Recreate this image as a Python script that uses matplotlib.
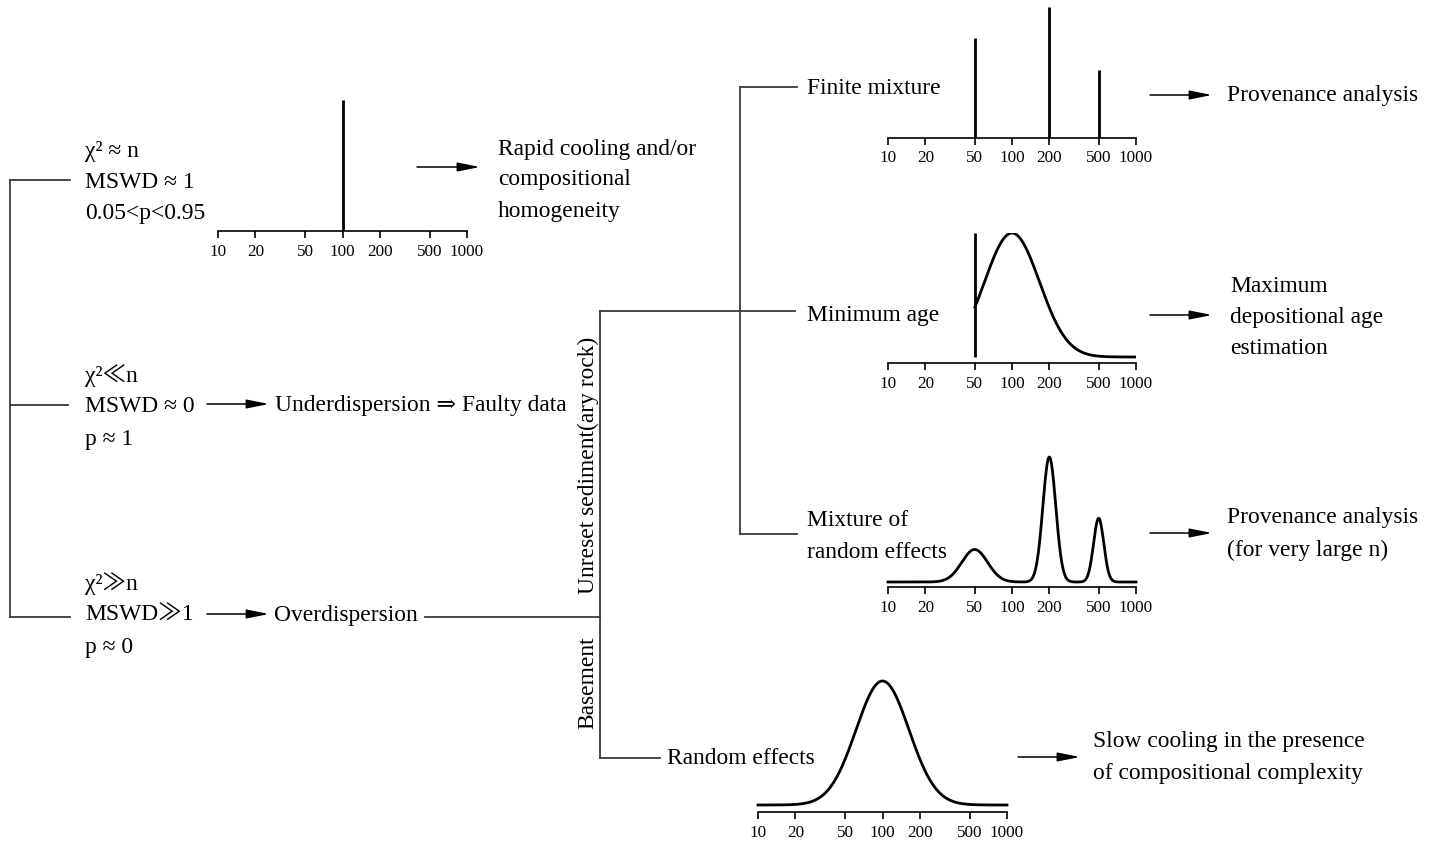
import numpy as np
import matplotlib
matplotlib.use('Agg')
import matplotlib.pyplot as plt

matplotlib.rcParams['font.family'] = ['Liberation Serif', 'DejaVu Serif', 'Noto Sans CJK JP', 'DejaVu Sans']
matplotlib.rcParams['font.size'] = 16.9

W, H = 1431, 846

# log age axis shared by all little plots
tick_values = [10, 20, 50, 100, 200, 500, 1000]
tick_labels = ['10', '20', '50', '100', '200', '500', '1000']

# single discrete age (rapid cooling)
single_ages = [100]
single_heights = [1.0]

# finite mixture: discrete components
finite_ages = [50, 200, 500]
finite_heights = [0.76, 1.0, 0.52]

# minimum age model
min_age = 50
min_age_mode = 100
min_age_sigma = 0.51

# mixture of random effects
mix_ages = [50, 200, 500]
mix_sigmas = [0.24, 0.12, 0.095]
mix_heights = [0.26, 1.0, 0.51]

# random effects (single lognormal)
rand_age = 100
rand_sigma = 0.49

fig = plt.figure(figsize=(W / 100, H / 100), dpi=100)
ax = fig.add_axes([0, 0, 1, 1])
ax.set_xlim(0, W)
ax.set_ylim(H, 0)
ax.axis('off')

tree = dict(color='#3a3a3a', lw=1.3)


def seg(x0, y0, x1, y1):
    ax.plot([x0, x1], [y0, y1], **tree)


def arrow(x0, x1, y):
    ax.annotate('', xy=(x1, y), xytext=(x0, y),
                arrowprops=dict(arrowstyle='-|>,head_length=0.8,head_width=0.16',
                                color='black', lw=1.1, shrinkA=0, shrinkB=0))


def lines(x, ys, strs, **kw):
    for y, s in zip(ys, strs):
        ax.text(x, y + 2, s, va='center', ha='left', **kw)


# left bracket
seg(10, 180, 10, 617)
seg(10, 180, 70, 180)
seg(10, 405, 68, 405)
seg(10, 617, 70, 617)

lines(85, [150, 181, 212], ['χ² ≈ n', 'MSWD ≈ 1', '0.05<p<0.95'])
lines(85, [374, 405, 437], ['χ²≪n', 'MSWD ≈ 0', 'p ≈ 1'])
lines(85, [582, 613, 645], ['χ²≫n', 'MSWD≫1', 'p ≈ 0'])

arrow(417, 480, 167)
lines(498, [147, 178, 210], ['Rapid cooling and/or', 'compositional', 'homogeneity'])

arrow(207, 269, 404)
lines(275, [403], ['Underdispersion ⇒ Faulty data'])

arrow(207, 269, 614)
lines(274, [613], ['Overdispersion'])
seg(425, 617, 600, 617)

# second bracket
seg(600, 311, 600, 758)
seg(600, 311, 795, 311)
seg(600, 758, 660, 758)
ax.text(588, 465, 'Unreset sediment(ary rock)', rotation=90, ha='center', va='center')
ax.text(588, 683, 'Basement', rotation=90, ha='center', va='center')

# third bracket
seg(740, 87, 740, 534)
seg(740, 87, 797, 87)
seg(740, 534, 797, 534)

lines(807, [87], ['Finite mixture'])
lines(807, [313], ['Minimum age'])
lines(807, [519, 550], ['Mixture of', 'random effects'])
lines(667, [756], ['Random effects'])

arrow(1150, 1212, 95)
lines(1227, [94], ['Provenance analysis'])
arrow(1150, 1212, 315)
lines(1230, [284, 316, 347], ['Maximum', 'depositional age', 'estimation'])
arrow(1150, 1212, 533)
lines(1227, [516, 548], ['Provenance analysis', '(for very large n)'])
arrow(1018, 1080, 757)
lines(1093, [740, 771], ['Slow cooling in the presence', 'of compositional complexity'])


def inset(x10, x1000, y_axis, y_base, y_peak):
    f = (y_axis - y_base) / (y_axis - y_peak)
    lo = -f / (1 - f)
    a = fig.add_axes([x10 / W, 1 - y_axis / H, (x1000 - x10) / W, (y_axis - y_peak) / H])
    a.set_xscale('log')
    a.set_xlim(10, 1000)
    a.set_ylim(lo, 1)
    a.patch.set_visible(False)
    for s in ['top', 'left', 'right']:
        a.spines[s].set_visible(False)
    a.spines['bottom'].set_linewidth(1.2)
    a.set_yticks([])
    a.set_xticks(tick_values)
    a.set_xticklabels(tick_labels)
    a.minorticks_off()
    a.tick_params(axis='x', direction='out', length=5, width=1.2, pad=4, labelsize=12.3)
    return a


xs = np.logspace(1, 3, 600)

a1 = inset(218, 467, 231, 231, 100)
a1.vlines(single_ages, 0, single_heights, color='black', lw=2)

a2 = inset(888, 1136, 138, 138, 7)
a2.vlines(finite_ages, 0, finite_heights, color='black', lw=2)

a3 = inset(888, 1136, 363, 357, 233)
xm = xs[xs >= min_age]
ym = np.exp(-np.log(xm / min_age_mode) ** 2 / (2 * min_age_sigma ** 2))
a3.plot(xm, ym, color='black', lw=2)
a3.vlines([min_age], 0, 1, color='black', lw=2)

a4 = inset(888, 1136, 587, 582, 457)
y4 = np.zeros_like(xs)
for m, s, h in zip(mix_ages, mix_sigmas, mix_heights):
    y4 += h * np.exp(-np.log(xs / m) ** 2 / (2 * s ** 2))
a4.plot(xs, y4, color='black', lw=2, clip_on=False)

a5 = inset(758, 1007, 812, 805, 681)
y5 = np.exp(-np.log(xs / rand_age) ** 2 / (2 * rand_sigma ** 2))
a5.plot(xs, y5, color='black', lw=2, clip_on=False)

fig.savefig('out.png', dpi=100)
